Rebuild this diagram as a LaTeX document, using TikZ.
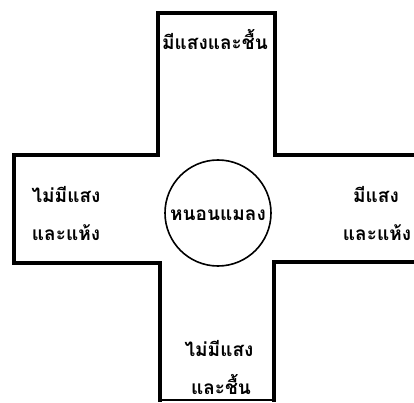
\documentclass[tikz,border=0pt]{standalone}
\usepackage{fontspec}
\newfontfamily\thaifont[Script=Thai]{Loma}
\usetikzlibrary{positioning}
\tikzset{
arm/.style = {line width=3.5pt, line join=miter},
lbl/.style = {font=\thaifont\bfseries\fontsize{19}{21}\selectfont,
              inner sep=0pt, anchor=base},
hub/.style = {circle, draw, line width=1.6pt, minimum size=106pt,
              inner sep=0pt}
}
\newcommand{\lbl}[3]{\node[lbl] (#1) at (#2) {#3};}
\begin{document}
\begin{tikzpicture}[x=1pt, y=1pt]
    \useasboundingbox (0,0) rectangle (414,402);
    % the cross
    \draw[arm] (416,247) -- (275,247) -- (275,389) -- (158,389) -- (158,247)
        -- (14,247) -- (14,139) -- (160,139) -- (160,0);
    \draw[arm] (416,140) -- (274,140) -- (274,0);
    \draw[line width=1.2pt] (160,2) -- (274,2);

    \node[hub] (larva) at (218,189) {};
    \lbl{name}{218,182}{หนอนแมลง};

    \lbl{top}{215,352}{มีแสงและชื้น};
    \lbl{left1}{66,200}{ไม่มีแสง};
    \lbl{left2}{66,162}{และแห้ง};
    \lbl{right1}{376,200}{มีแสง};
    \lbl{right2}{377,162}{และแห้ง};
    \lbl{bot1}{219,46}{ไม่มีแสง};
    \lbl{bot2}{221,8}{และชื้น};
\end{tikzpicture}
\end{document}
